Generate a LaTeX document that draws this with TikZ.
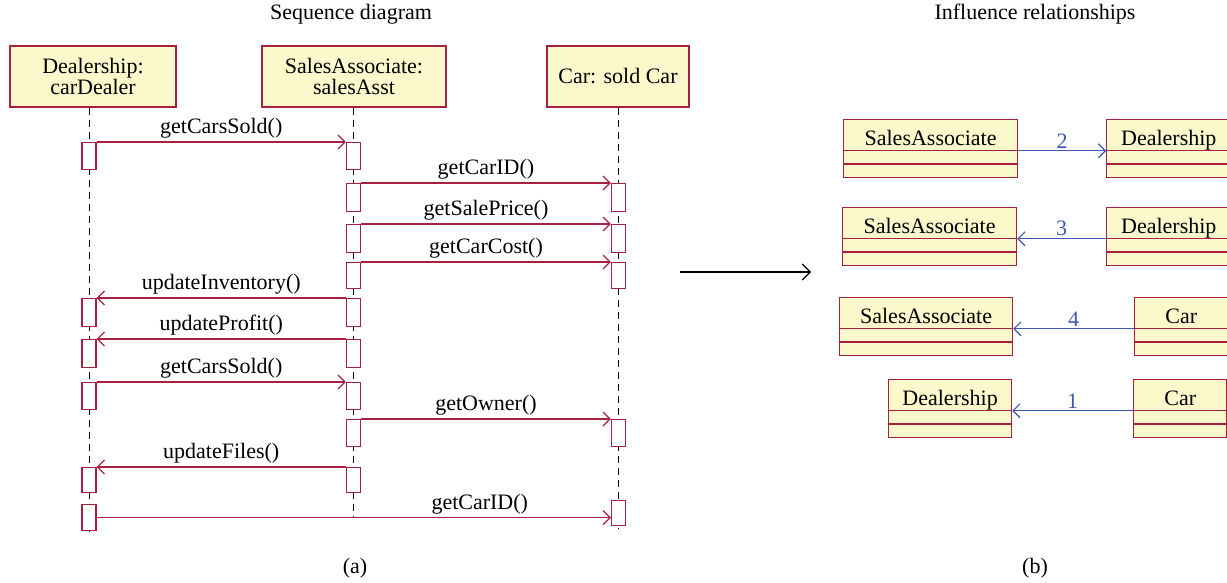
\documentclass[tikz,border=0pt]{standalone}
\usepackage{fontspec}
\setmainfont{Liberation Serif}
\usetikzlibrary{arrows.meta,positioning,shapes.multipart}
\definecolor{seqred}{RGB}{168,32,64}
\definecolor{boxyellow}{RGB}{251,248,204}
\definecolor{relblue}{RGB}{58,88,178}
\newcommand{\clsbox}[1]{\rule[-2.5pt]{0pt}{15pt}#1\nodepart{two}\rule{0pt}{6pt}\nodepart{three}\rule{0pt}{6pt}}

\begin{document}
\begin{tikzpicture}[x=0.5pt, y=-0.5pt,
  every node/.style={font=\fontsize{11pt}{10.5pt}\selectfont},
  hdr/.style={rectangle, draw=seqred, fill=boxyellow, line width=0.6pt, align=center, minimum height=30.5pt, inner sep=1pt},
  act/.style={rectangle, draw=seqred, fill=white, line width=0.6pt, minimum width=7pt, minimum height=13.5pt, inner sep=0pt, anchor=north},
  lifeline/.style={draw=black, line width=0.5pt, dash pattern=on 3.5pt off 2.5pt},
  msg/.style={-{Straight Barb[length=3.5pt,width=7pt]}, draw=seqred, line width=0.6pt},
  lbl/.style={above, inner sep=1.5pt},
  cls/.style={rectangle split, rectangle split parts=3, draw=seqred, fill=boxyellow, line width=0.6pt, inner xsep=2pt, inner ysep=0pt, minimum width=#1},
  rel/.style={-{Straight Barb[length=3.5pt,width=7pt]}, draw=relblue, line width=0.6pt},
  num/.style={above, inner sep=1pt, text=relblue}]
\useasboundingbox (0,0) rectangle (1227,583);

% titles and captions
\node (seqtitle) at (351,14) {Sequence diagram};
\node (inftitle) at (1035,14) {Influence relationships};
\node (capA) at (355,568) {(a)};
\node (capB) at (1035,568) {(b)};

% (a) sequence diagram
\node[hdr, minimum width=83pt] (dealer) at (93,76.5) {Dealership:\\carDealer};
\node[hdr, minimum width=92pt] (asst) at (354,76.5) {SalesAssociate:\\salesAsst};
\node[hdr, minimum width=71pt] (car) at (618,76.5) {Car: sold Car};

\coordinate (dEnd) at (89,532);
\coordinate (sEnd) at (353.5,517);
\coordinate (cEnd) at (618.5,529);
\draw[lifeline] (dealer.south -| dEnd) -- (dEnd);
\draw[lifeline] (asst.south -| sEnd) -- (sEnd);
\draw[lifeline] (car.south -| cEnd) -- (cEnd);

% activation bars
\node[act] (d1) at (89,142) {};
\node[act, minimum height=14pt] (d2) at (89,298) {};
\node[act, minimum height=14pt] (d3) at (89,339) {};
\node[act] (d4) at (89,382) {};
\node[act, minimum height=12.5pt] (d5) at (89,467) {};
\node[act, minimum height=13pt] (d6) at (89,504) {};

\node[act] (s1) at (353.5,142) {};
\node[act, minimum height=14pt] (s2) at (353.5,183) {};
\node[act, minimum height=14pt] (s3) at (353.5,224) {};
\node[act, minimum height=13pt] (s4) at (353.5,262) {};
\node[act, minimum height=14pt] (s5) at (353.5,298) {};
\node[act, minimum height=14pt] (s6) at (353.5,339) {};
\node[act] (s7) at (353.5,382) {};
\node[act] (s8) at (353.5,419) {};
\node[act, minimum height=12.5pt] (s9) at (353.5,467) {};

\node[act, minimum height=14pt] (c1) at (618.5,183) {};
\node[act, minimum height=14pt] (c2) at (618.5,224) {};
\node[act, minimum height=13pt] (c3) at (618.5,262) {};
\node[act] (c4) at (618.5,419) {};
\node[act, minimum height=12.5pt] (c5) at (618.5,500) {};

% messages
\draw[msg] (d1.north east) -- (s1.north west) node[lbl, midway] {getCarsSold()};
\draw[msg] (s2.north east) -- (c1.north west) node[lbl, midway] {getCarID()};
\draw[msg] (s3.north east) -- (c2.north west) node[lbl, midway] {getSalePrice()};
\draw[msg] (s4.north east) -- (c3.north west) node[lbl, midway] {getCarCost()};
\draw[msg] (s5.north west) -- (d2.north east) node[lbl, midway] {updateInventory()};
\draw[msg] (s6.north west) -- (d3.north east) node[lbl, midway] {updateProfit()};
\draw[msg] (d4.north east) -- (s7.north west) node[lbl, midway] {getCarsSold()};
\draw[msg] (s8.north east) -- (c4.north west) node[lbl, midway] {getOwner()};
\draw[msg] (s9.north west) -- (d5.north east) node[lbl, midway] {updateFiles()};
\draw[msg] (d6.east) -- (d6.east -| c5.west) node[lbl, pos=0.745] {getCarID()};

% transition arrow
\coordinate (flowA) at (680,272);
\coordinate (flowB) at (811,272);
\draw[-{Straight Barb[length=4pt,width=8pt]}, line width=0.6pt] (flowA) -- (flowB);

% (b) influence relationships
\node[cls=87pt, anchor=north west] (sa1) at (843,119) {\clsbox{SalesAssociate}};
\node[cls=62pt, right=44pt of sa1] (dl1) {\clsbox{Dealership}};
\node[cls=87pt, anchor=north west] (sa2) at (842,207) {\clsbox{SalesAssociate}};
\node[cls=62pt, right=44.5pt of sa2] (dl2) {\clsbox{Dealership}};
\node[cls=86.5pt, anchor=north west] (sa3) at (839,297) {\clsbox{SalesAssociate}};
\node[cls=46.5pt, right=60.5pt of sa3] (car3) {\clsbox{Car}};
\node[cls=61.5pt, anchor=north west] (dl4) at (888,379) {\clsbox{Dealership}};
\node[cls=46.5pt, right=60.5pt of dl4] (car4) {\clsbox{Car}};

\draw[rel] (sa1.text split east) -- (dl1.text split west) node[num, midway] {2};
\draw[rel] (dl2.text split west) -- (sa2.text split east) node[num, midway] {3};
\draw[rel] (car3.text split west) -- (sa3.text split east) node[num, midway] {4};
\draw[rel] (car4.text split west) -- (dl4.text split east) node[num, midway] {1};
\end{tikzpicture}
\end{document}
